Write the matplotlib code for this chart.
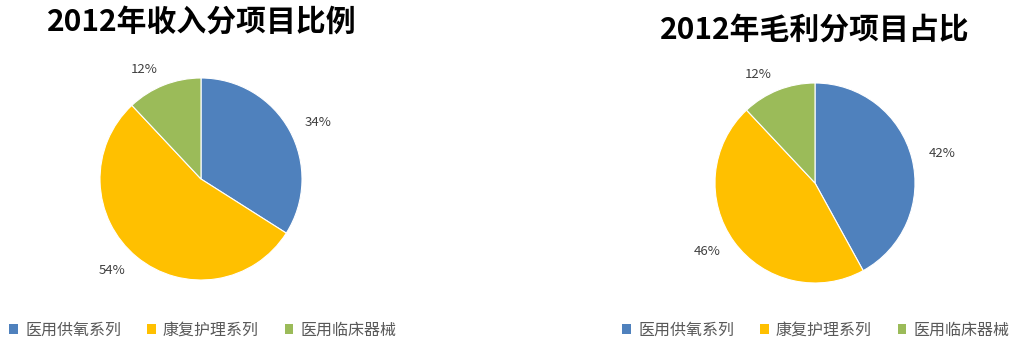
import matplotlib.pyplot as plt
from matplotlib.patches import Patch

plt.rcParams['font.family'] = ['Noto Sans CJK SC', 'DejaVu Sans']

categories = ['医用供氧系列', '康复护理系列', '医用临床器械']
revenue_share = [34, 54, 12]
profit_share = [42, 46, 12]
titles = ['2012年收入分项目比例', '2012年毛利分项目占比']
colors = ['#4F81BD', '#FFC000', '#9BBB59']

W, H = 1010, 341
fig = plt.figure(figsize=(W / 100, H / 100), dpi=100)


def px_axes(cx, cy, r):
    return fig.add_axes([(cx - r) / W, (H - cy - r) / H, 2 * r / W, 2 * r / H])


def draw_pie(ax, values):
    ax.pie(values, colors=colors, startangle=90, counterclock=False,
           labels=[f'{v}%' for v in values], labeldistance=1.17,
           wedgeprops=dict(edgecolor='white', linewidth=0.8),
           textprops=dict(fontsize=9.5, color='#404040'))
    ax.set_aspect('equal')
    ax.set_xlim(-1, 1)
    ax.set_ylim(-1, 1)
    ax.axis('off')


ax1 = px_axes(201, 179, 101)
draw_pie(ax1, revenue_share)
ax2 = px_axes(815, 183, 100)
draw_pie(ax2, profit_share)

fig.text(202 / W, 1 - 22 / H, titles[0], ha='center', va='center',
         fontsize=21.5, fontweight='bold', color='black')
fig.text(815 / W, 1 - 30 / H, titles[1], ha='center', va='center',
         fontsize=21.5, fontweight='bold', color='black')

handles = [Patch(facecolor=c, edgecolor='none') for c in colors]
for cx in (203, 816):
    fig.legend(handles, categories, loc='center', bbox_to_anchor=(cx / W, 1 - 330 / H),
               ncol=3, frameon=False, fontsize=11.5, handlelength=0.55, handleheight=0.55,
               handletextpad=0.45, columnspacing=1.6, labelcolor='#595959')

fig.savefig('out.png', dpi=100)
